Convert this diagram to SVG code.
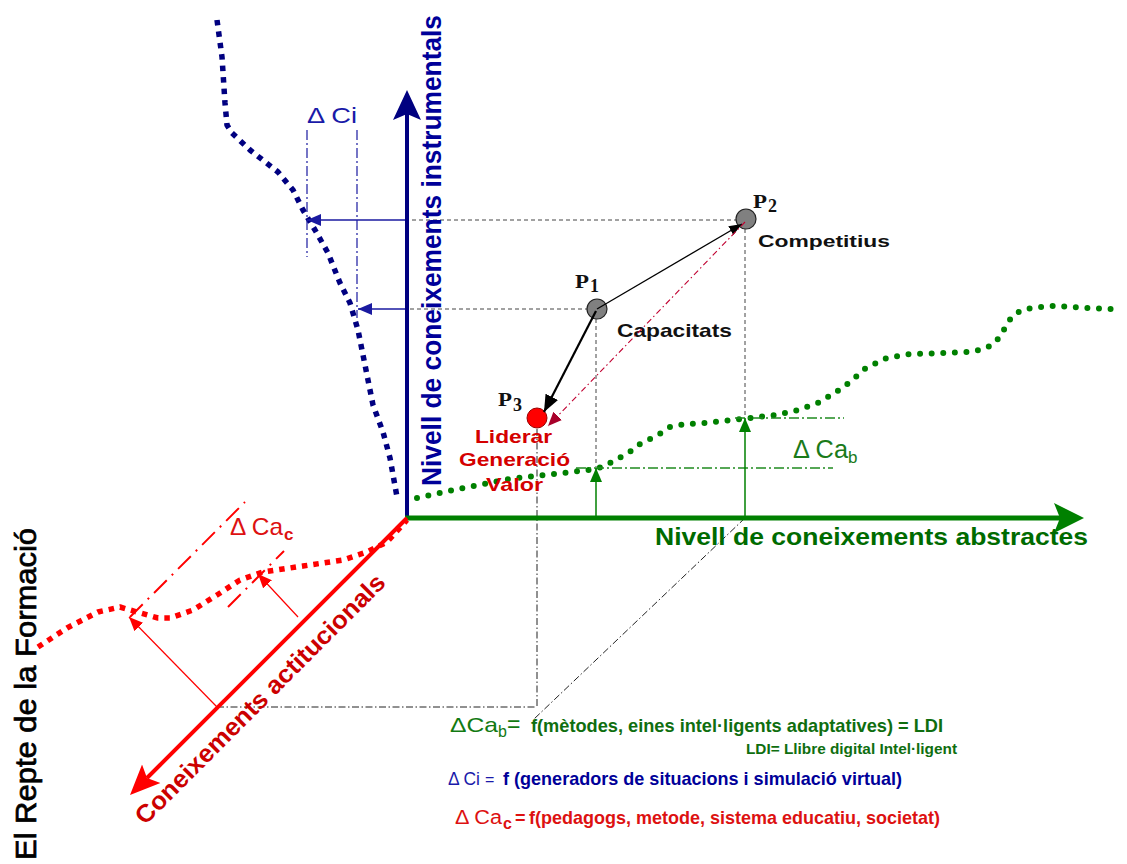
<svg xmlns="http://www.w3.org/2000/svg" width="1127" height="864" viewBox="0 0 1127 864">
<defs>
<style>
text{font-family:"Liberation Sans",Arial,sans-serif}
.b{font-weight:bold}
.pl{font-family:"Liberation Serif","Times New Roman",serif;font-weight:bold;font-size:18px;fill:#111}
.gray{fill:#808080;stroke:#222;stroke-width:1.2}
.dash{fill:none;stroke:#444;stroke-width:1;stroke-dasharray:4 3}
.dd{fill:none;stroke:#222;stroke-width:1;stroke-dasharray:7 2.5 1.5 2.5}
.bdd{fill:none;stroke:#1a1aa0;stroke-width:1.2;stroke-dasharray:10 3 2 3}
.gdd{fill:none;stroke:#1f8a1f;stroke-width:1.3;stroke-dasharray:10 3 2 3}
.rdd{fill:none;stroke:#ff0000;stroke-width:2;stroke-dasharray:18 7 2 7}
</style>
<marker id="axB" markerUnits="userSpaceOnUse" markerWidth="30" markerHeight="30" refX="6" refY="15" orient="auto"><path d="M0,1 L30,15 L0,29 L6,15 z" fill="#000080"/></marker>
<marker id="axG" markerUnits="userSpaceOnUse" markerWidth="30" markerHeight="30" refX="6" refY="15" orient="auto"><path d="M0,0 L30,15 L0,30 L6,15 z" fill="#008000"/></marker>
<marker id="axR" markerUnits="userSpaceOnUse" markerWidth="30" markerHeight="28" refX="6" refY="14" orient="auto"><path d="M0,1 L30,14 L0,27 L6,14 z" fill="#ff0000"/></marker>
<marker id="aK" markerUnits="userSpaceOnUse" markerWidth="13" markerHeight="10" refX="13" refY="5" orient="auto"><path d="M0,0 L13,5 L0,10 z" fill="#000"/></marker>
<marker id="aKL" markerUnits="userSpaceOnUse" markerWidth="17" markerHeight="14" refX="17" refY="7" orient="auto"><path d="M0,0 L17,7 L0,14 z" fill="#000"/></marker>
<marker id="aDR" markerUnits="userSpaceOnUse" markerWidth="14" markerHeight="12" refX="14" refY="6" orient="auto"><path d="M0,0 L14,6 L0,12 z" fill="#a8002a"/></marker>
<marker id="aBl" markerUnits="userSpaceOnUse" markerWidth="14" markerHeight="12" refX="14" refY="6" orient="auto"><path d="M0,0 L14,6 L0,12 z" fill="#1a1aa0"/></marker>
<marker id="aGr" markerUnits="userSpaceOnUse" markerWidth="14" markerHeight="12" refX="14" refY="6" orient="auto"><path d="M0,0 L14,6 L0,12 z" fill="#008000"/></marker>
<marker id="aRd" markerUnits="userSpaceOnUse" markerWidth="14" markerHeight="12" refX="14" refY="6" orient="auto"><path d="M0,0 L14,6 L0,12 z" fill="#ff0000"/></marker>
</defs>
<rect width="1127" height="864" fill="#fff"/>

<!-- curves -->
<g id="curves" fill="none" stroke-linejoin="round">
<polyline id="curve-blue" points="217,20 222,57 225,103 227,125 232,133 250,150 278,172 293,190 303,210 315,230 328,253 340,283 350,303 358,330 363,355 368,380 373,405 383,432 390,458 397,497" stroke="#000080" stroke-width="5.5" stroke-dasharray="5.5 6"/>
<polyline id="curve-green" points="417,498 463,488 509,479 555,474 588,470 599,468 610,463 621,457 631,451 640,444 650,439 661,433 670,427 685,424 706,423 741,419 776,415 798,410 820,402 839,390 850,382 866,368 887,358 910,354 945,353 968,352 980,350 990,346 999,338 1005,328 1011,318 1020,311 1031,308 1054,306 1089,308 1112,309" stroke="#008000" stroke-width="6" stroke-linecap="round" stroke-dasharray="0 11.6"/>
<polyline id="curve-red" points="38,647 67,628 98,612 120,607 137,612 158,618 170,618 193,610 217,595 240,580 263,572 303,566 343,560 367,552 387,542 407,520" stroke="#ff0000" stroke-width="5.5" stroke-dasharray="5.5 6"/>
</g>

<!-- connectors -->
<g id="connectors">
<line class="dash" x1="745" y1="220" x2="407" y2="220"/>
<line class="dash" x1="596" y1="309" x2="407" y2="309"/>
<line class="dash" x1="745" y1="229" x2="745" y2="418"/>
<line class="dash" x1="596" y1="319" x2="596" y2="467"/>
<line class="dd" x1="537" y1="429" x2="537" y2="707"/>
<line class="dd" x1="217" y1="707" x2="537" y2="707"/>
<line class="dd" x1="745" y1="518" x2="533" y2="720"/>
<line class="bdd" x1="307" y1="130" x2="307" y2="257"/>
<line class="bdd" x1="357" y1="130" x2="357" y2="318"/>
<line class="gdd" x1="735" y1="418" x2="844" y2="418"/>
<line class="gdd" x1="576" y1="468" x2="833" y2="468"/>
<line class="rdd" x1="130" y1="617" x2="245" y2="502"/>
<line class="rdd" x1="228" y1="607" x2="284" y2="551"/>
<line x1="407" y1="220" x2="307" y2="220" stroke="#1a1aa0" stroke-width="1.4" marker-end="url(#aBl)"/>
<line x1="407" y1="309" x2="358" y2="309" stroke="#1a1aa0" stroke-width="1.4" marker-end="url(#aBl)"/>
<line x1="596" y1="518" x2="596" y2="468" stroke="#008000" stroke-width="1.5" marker-end="url(#aGr)"/>
<line x1="745" y1="518" x2="745" y2="418" stroke="#008000" stroke-width="1.5" marker-end="url(#aGr)"/>
<line x1="217" y1="707" x2="129" y2="617" stroke="#ff0000" stroke-width="1.2" marker-end="url(#aRd)"/>
<line x1="298" y1="617" x2="258" y2="574" stroke="#ff0000" stroke-width="1.2" marker-end="url(#aRd)"/>
</g>

<!-- axes -->
<g id="axis-instrumentals">
<line x1="407" y1="520" x2="407" y2="114" stroke="#000080" stroke-width="4" marker-end="url(#axB)"/>
<text class="b" transform="translate(441,486) rotate(-90)" font-size="27" fill="#000099" textLength="471" lengthAdjust="spacingAndGlyphs">Nivell de coneixements instrumentals</text>
</g>
<g id="axis-abstractes">
<line x1="405" y1="518" x2="1060" y2="518" stroke="#008000" stroke-width="5" marker-end="url(#axG)"/>
<text class="b" x="655" y="545" font-size="24" fill="#006b00" textLength="433" lengthAdjust="spacingAndGlyphs">Nivell de coneixements abstractes</text>
</g>
<g id="axis-actitucionals">
<line x1="407" y1="518" x2="147" y2="778" stroke="#ff0000" stroke-width="4" marker-end="url(#axR)"/>
<text class="b" transform="translate(145,826) rotate(-45)" font-size="25" fill="#cc0000" textLength="342" lengthAdjust="spacingAndGlyphs">Coneixements actitucionals</text>
</g>

<!-- points -->
<g id="P1">
<circle class="gray" cx="597" cy="309" r="10"/>
<text class="pl" x="575" y="288" textLength="14" lengthAdjust="spacingAndGlyphs">P</text><text class="pl" x="590" y="292" font-size="12">1</text>
<text class="b" x="617" y="337" font-size="19" fill="#111" textLength="115" lengthAdjust="spacingAndGlyphs">Capacitats</text>
</g>
<g id="P2">
<circle class="gray" cx="746" cy="219" r="10"/>
<text class="pl" x="753" y="208" textLength="14" lengthAdjust="spacingAndGlyphs">P</text><text class="pl" x="768" y="212" font-size="12">2</text>
<text class="b" x="758" y="247" font-size="17" fill="#111" textLength="132" lengthAdjust="spacingAndGlyphs">Competitius</text>
</g>
<g id="P3">
<circle cx="537" cy="418" r="10" fill="#ff0000" stroke="#990000" stroke-width="1"/>
<text class="pl" x="498" y="406" textLength="14" lengthAdjust="spacingAndGlyphs">P</text><text class="pl" x="513" y="411" font-size="12">3</text>
<g class="b" font-size="19" fill="#d40000">
<text x="475" y="443" textLength="77" lengthAdjust="spacingAndGlyphs">Liderar</text>
<text x="459" y="466" textLength="111" lengthAdjust="spacingAndGlyphs">Generació</text>
<text x="486" y="491" textLength="57" lengthAdjust="spacingAndGlyphs">Valor</text>
</g>
</g>

<!-- point connectors -->
<g id="point-connectors">
<line x1="597" y1="309" x2="742" y2="224" stroke="#000" stroke-width="1.3" marker-end="url(#aK)"/>
<line x1="596" y1="311" x2="544" y2="412" stroke="#000" stroke-width="2.2" marker-end="url(#aKL)"/>
<line x1="745" y1="222" x2="548" y2="426" stroke="#c00030" stroke-width="1.1" stroke-dasharray="6 3 1.5 3" marker-end="url(#aDR)"/>
</g>

<!-- delta labels -->
<g id="labels">
<text x="307" y="123" font-size="22" fill="#1a1aa8" textLength="50" lengthAdjust="spacingAndGlyphs">Δ Ci</text>
<text x="793" y="458" font-size="25" fill="#1a7a1a" textLength="55" lengthAdjust="spacingAndGlyphs">Δ Ca</text>
<text x="848" y="463" font-size="17" fill="#1a7a1a">b</text>
<text x="230" y="535" font-size="24" fill="#dd1111" textLength="53" lengthAdjust="spacingAndGlyphs">Δ Ca</text>
<text class="b" x="284" y="540" font-size="17" fill="#dd1111">c</text>
<text transform="translate(36,860) rotate(-90)" font-size="30" fill="#000" stroke="#000" stroke-width="0.7" textLength="332" lengthAdjust="spacingAndGlyphs">El Repte de la Formació</text>
</g>

<!-- formulas -->
<g id="formulas">
<text x="450" y="732" font-size="21" fill="#127a12" textLength="48" lengthAdjust="spacingAndGlyphs">ΔCa</text>
<text x="498" y="737" font-size="16" fill="#127a12">b</text>
<text x="507" y="732" font-size="23" fill="#127a12">=</text>
<text class="b" x="531" y="732" font-size="19" fill="#0f6e0f" textLength="412" lengthAdjust="spacingAndGlyphs">f(mètodes, eines intel·ligents adaptatives) = LDI</text>
<text class="b" x="746" y="754" font-size="14" fill="#0f6e0f" textLength="211" lengthAdjust="spacingAndGlyphs">LDI= Llibre digital Intel·ligent</text>
<text x="448" y="785" font-size="18" fill="#1a1aaa" textLength="32" lengthAdjust="spacingAndGlyphs">Δ Ci</text>
<text x="485" y="785" font-size="16" fill="#1a1aaa">=</text>
<text class="b" x="503" y="785" font-size="19" fill="#000099" textLength="399" lengthAdjust="spacingAndGlyphs">f (generadors de situacions i simulació virtual)</text>
<text x="455" y="824" font-size="20" fill="#dd1111" textLength="47" lengthAdjust="spacingAndGlyphs">Δ Ca</text>
<text class="b" x="503" y="829" font-size="16" fill="#dd1111">c</text>
<text class="b" x="515" y="824" font-size="18" fill="#dd1111">=</text>
<text class="b" x="529" y="824" font-size="19" fill="#dd1111" textLength="411" lengthAdjust="spacingAndGlyphs">f(pedagogs, metode, sistema educatiu, societat)</text>
</g>
</svg>
